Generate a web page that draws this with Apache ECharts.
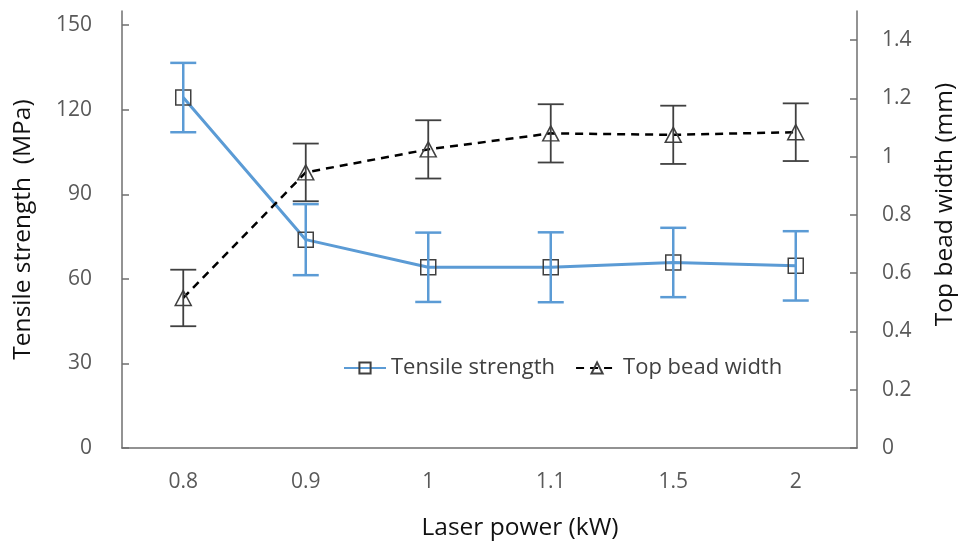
<!DOCTYPE html>
<html>
<head>
<meta charset="utf-8">
<script src="https://cdn.jsdelivr.net/npm/echarts@6/dist/echarts.min.js"></script>
<style>html,body{margin:0;padding:0;background:#fff}#c{width:973px;height:549px}</style>
</head>
<body>
<div id="c"></div>
<script>
var categories = ['0.8', '0.9', '1', '1.1', '1.5', '2'];
var tensile = [124.3, 73.9, 64.1, 64.1, 65.8, 64.6];
var tensileErr = [12.3, 12.6, 12.3, 12.4, 12.3, 12.3];
var beadWidth = [0.515, 0.946, 1.025, 1.08, 1.075, 1.084];
var beadErr = [0.097, 0.099, 0.1, 0.1, 0.1, 0.099];
var leftTicks = [0, 30, 60, 90, 120, 150];
var rightTicks = [0, 0.2, 0.4, 0.6, 0.8, 1, 1.2, 1.4];

var FONT = '"Open Sans"';
var chart = echarts.init(document.getElementById('c'));

function errData(vals, errs) {
  return vals.map(function (v, i) { return [i, v, v - errs[i], v + errs[i]]; });
}
function errRender(color, width) {
  return function (params, api) {
    var x = api.value(0);
    var lo = api.coord([x, api.value(2)]);
    var hi = api.coord([x, api.value(3)]);
    var hw = 13;
    var st = { stroke: color, lineWidth: width };
    return {
      type: 'group',
      children: [
        { type: 'line', shape: { x1: hi[0], y1: hi[1], x2: lo[0], y2: lo[1] }, style: st },
        { type: 'line', shape: { x1: hi[0] - hw, y1: hi[1], x2: hi[0] + hw, y2: hi[1] }, style: st },
        { type: 'line', shape: { x1: lo[0] - hw, y1: lo[1], x2: lo[0] + hw, y2: lo[1] }, style: st }
      ]
    };
  };
}

var axisLineStyle = { color: '#6f6f6f', width: 1.5 };
var labelStyle = { color: '#595959', fontSize: 21, fontFamily: FONT };
function nameStyle(pad) {
  return { color: '#111', fontSize: 24.5, fontFamily: FONT, padding: pad };
}

chart.setOption({
  animation: false,
  backgroundColor: '#fff',
  grid: { left: 122, right: 116, top: 11, bottom: 101, containLabel: false },
  legend: {
    data: ['Tensile strength', 'Top bead width'],
    left: 338, top: 352,
    itemWidth: 42, itemHeight: 14, itemGap: 20,
    textStyle: { color: '#404040', fontSize: 22, fontFamily: FONT }
  },
  xAxis: {
    type: 'category',
    data: categories,
    boundaryGap: true,
    name: 'Laser power (kW)',
    nameLocation: 'middle',
    nameGap: 68,
    nameTextStyle: nameStyle([0, 0, 0, 61]),
    axisLine: { lineStyle: axisLineStyle },
    axisTick: { inside: true, alignWithLabel: true, length: 7, lineStyle: axisLineStyle },
    axisLabel: Object.assign({ margin: 24 }, labelStyle),
    splitLine: { show: false }
  },
  yAxis: [
    {
      type: 'value', min: 0, max: 155, interval: 30,
      name: 'Tensile strength  (MPa)',
      nameLocation: 'middle', nameGap: 86, nameRotate: 90,
      nameTextStyle: nameStyle([0, 0, 0, 0]),
      axisLine: { show: true, lineStyle: axisLineStyle },
      axisTick: { show: true, inside: true, length: 7, lineStyle: axisLineStyle, customValues: leftTicks },
      axisLabel: Object.assign({ margin: 30, customValues: leftTicks }, labelStyle),
      splitLine: { show: false }
    },
    {
      type: 'value', min: 0, max: 1.5, interval: 0.2,
      name: 'Top bead width (mm)',
      nameLocation: 'middle', nameGap: 76, nameRotate: 90,
      nameTextStyle: nameStyle([0, 0, 0, 50]),
      position: 'right',
      axisLine: { show: true, lineStyle: axisLineStyle },
      axisTick: { show: true, inside: true, length: 7, lineStyle: axisLineStyle, customValues: rightTicks },
      axisLabel: Object.assign({ margin: 25, customValues: rightTicks }, labelStyle),
      splitLine: { show: false }
    }
  ],
  series: [
    {
      name: 'Tensile strength',
      type: 'line',
      yAxisIndex: 0,
      data: tensile,
      symbol: 'rect',
      symbolSize: 15,
      lineStyle: { color: '#5B9BD5', width: 3 },
      itemStyle: { color: 'rgba(255,255,255,0)', borderColor: '#404040', borderWidth: 1.5 },
      z: 3
    },
    {
      name: 'Top bead width',
      type: 'line',
      yAxisIndex: 1,
      data: beadWidth,
      symbol: 'triangle',
      symbolSize: [16, 15],
      lineStyle: { color: '#000', width: 2.5, type: [8, 6] },
      itemStyle: { color: 'rgba(255,255,255,0)', borderColor: '#404040', borderWidth: 1.5 },
      z: 3
    },
    {
      name: 'tensileErr',
      type: 'custom',
      yAxisIndex: 0,
      data: errData(tensile, tensileErr),
      renderItem: errRender('#5B9BD5', 2.5),
      z: 4,
      silent: true
    },
    {
      name: 'beadErr',
      type: 'custom',
      yAxisIndex: 1,
      data: errData(beadWidth, beadErr),
      renderItem: errRender('#404040', 1.8),
      z: 4,
      silent: true
    }
  ]
});
</script>
</body>
</html>
